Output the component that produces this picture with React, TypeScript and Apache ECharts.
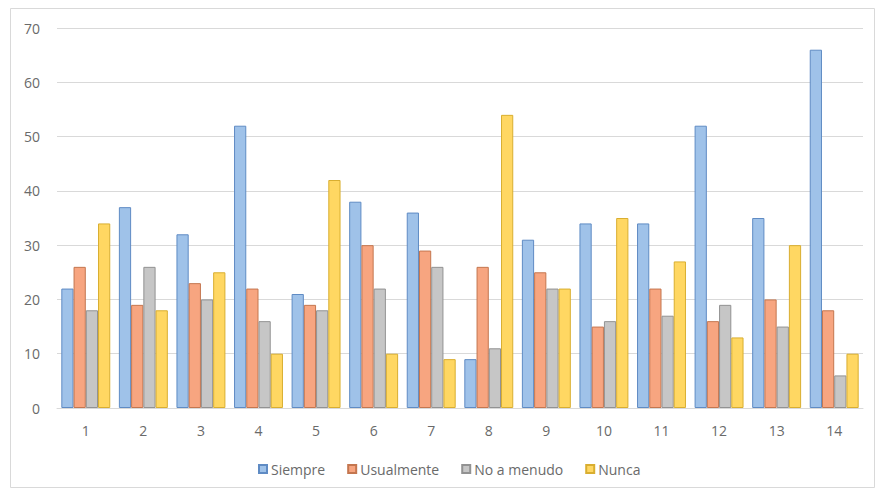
import React, { useEffect, useRef } from "react";
import * as echarts from "echarts";

// Survey answers per question (1–14), four frequency responses each
const categories = ["1", "2", "3", "4", "5", "6", "7", "8", "9", "10", "11", "12", "13", "14"];
const siempre = [22, 37, 32, 52, 21, 38, 36, 9, 31, 34, 34, 52, 35, 66];
const usualmente = [26, 19, 23, 22, 19, 30, 29, 26, 25, 15, 22, 16, 20, 18];
const noAMenudo = [18, 26, 20, 16, 18, 22, 26, 11, 22, 16, 17, 19, 15, 6];
const nunca = [34, 18, 25, 10, 42, 10, 9, 54, 22, 35, 27, 13, 30, 10];

const seriesNames = ["Siempre", "Usualmente", "No a menudo", "Nunca"];
const fills = ["#9fc2e9", "#f7a580", "#c6c6c6", "#ffd762"];
const strokes = ["#5f8bc4", "#c4764f", "#929292", "#d9ae30"];

const FONT = "'Open Sans', 'Noto Sans', sans-serif";
const TEXT_COLOR = "#6a6a6a";

export default function App() {
  const ref = useRef<HTMLDivElement>(null);

  useEffect(() => {
    if (!ref.current) return;
    const chart = echarts.init(ref.current, undefined, { renderer: "svg" });
    const values = [siempre, usualmente, noAMenudo, nunca];

    chart.setOption({
      animation: false,
      backgroundColor: "#ffffff",
      textStyle: { fontFamily: FONT },
      graphic: [
        {
          type: "rect",
          shape: { x: 10.5, y: 8.5, width: 864, height: 479 },
          style: { fill: "none", stroke: "#d9d9d9", lineWidth: 1 },
          silent: true,
          z: -1,
        },
      ],
      legend: {
        data: seriesNames,
        top: 457,
        left: 253,
        itemWidth: 8,
        itemHeight: 8,
        itemGap: 22,
        icon: "rect",
        textStyle: { color: TEXT_COLOR, fontSize: 14, fontFamily: FONT, padding: [0, 0, 0, -1] },
      },
      grid: { left: 57, right: 12, top: 28, bottom: 87, containLabel: false },
      xAxis: {
        type: "category",
        data: categories,
        axisLine: { lineStyle: { color: "#d9d9d9" } },
        axisTick: { show: false },
        axisLabel: { color: TEXT_COLOR, fontSize: 14, margin: 15, fontFamily: FONT },
      },
      yAxis: {
        type: "value",
        min: 0,
        max: 70,
        interval: 10,
        axisLine: { show: false },
        axisTick: { show: false },
        splitLine: { lineStyle: { color: "#d9d9d9" } },
        axisLabel: { color: TEXT_COLOR, fontSize: 14, margin: 17, fontFamily: FONT },
      },
      series: seriesNames.map((name, i) => ({
        name,
        type: "bar",
        data: values[i],
        barGap: "0%",
        barCategoryGap: "15%",
        itemStyle: { color: fills[i], borderColor: strokes[i], borderWidth: 1 },
      })),
    });

    return () => chart.dispose();
  }, []);

  return (
    <div
      ref={ref}
      style={{ position: "fixed", left: 0, top: 0, width: 875, height: 495 }}
    />
  );
}
